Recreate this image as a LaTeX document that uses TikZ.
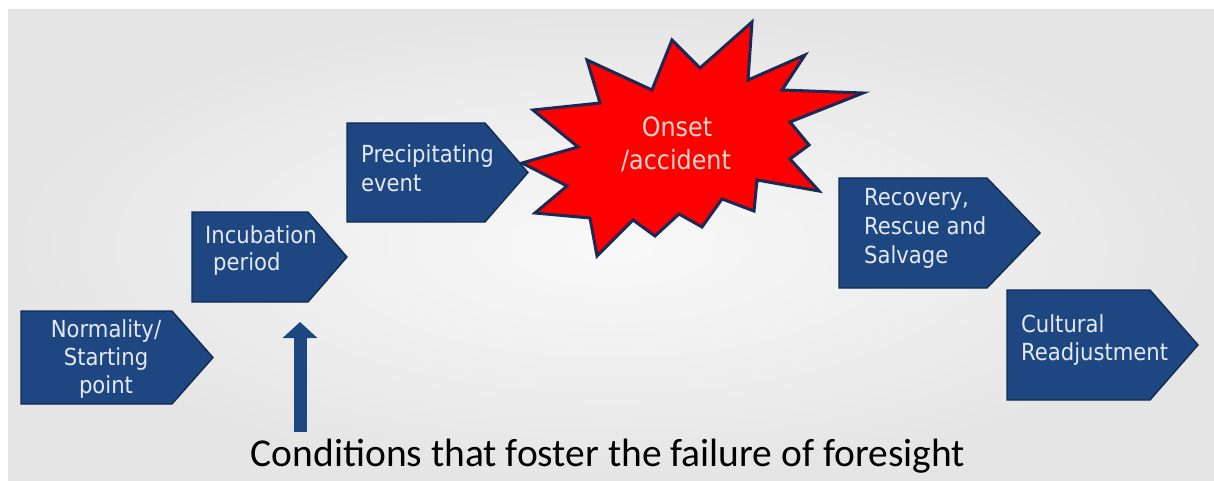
\documentclass[tikz,border=0pt]{standalone}
\usepackage{fontspec}
\setmainfont{Carlito}
\newfontfamily\boxfont{DejaVu Sans Condensed}
\usetikzlibrary{arrows.meta}
\definecolor{bluefill}{HTML}{1E4781}
\definecolor{blueedge}{HTML}{122B50}
\definecolor{boxtxt}{HTML}{E2E9F2}
\definecolor{burstred}{HTML}{FF0000}
\definecolor{burstedge}{HTML}{1B2A55}
\definecolor{bursttxt}{HTML}{F8D8CC}
\definecolor{bgedge}{HTML}{E5E5E5}
\definecolor{bgmid}{HTML}{F9F9F9}
\newcommand\pentbox[6]{% name, x1, y1, x2, tip, y2
  \path[stepbox] (#2,#3) -- (#4,#3) -- (#5,{(#3+#6)/2}) -- (#4,#6) -- (#2,#6) -- cycle;
  \coordinate (#1) at ({(#2+#5)/2},{(#3+#6)/2});}
\begin{document}
\begin{tikzpicture}[x=1pt,y=-1pt,
  stepbox/.style={fill=bluefill, draw=blueedge, line width=1.4pt, line join=miter},
  boxlabel/.style={font=\boxfont\fontsize{23.5}{28}\selectfont, text=boxtxt, inner sep=0pt, anchor=base west},
  boxlabelc/.style={boxlabel, anchor=base},
  burst/.style={fill=burstred, draw=burstedge, line width=3pt, line join=miter, miter limit=20},
  bursttext/.style={font=\boxfont\fontsize{26.5}{32}\selectfont, text=bursttxt, inner sep=0pt, anchor=base},
  uparrow/.style={draw=bluefill, line width=13pt, -{Triangle[width=34pt,length=16pt]}},
  caption/.style={font=\fontsize{39.5}{46}\selectfont, text=black, inner sep=0pt, anchor=base}]
\useasboundingbox (0,0) rectangle (1214,481);
\fill[white] (0,0) rectangle (1214,481);
\shade[inner color=bgmid, outer color=bgedge] (8,10) rectangle (1214,481);

% step boxes
\pentbox{s1}{21}{311}{172}{213}{404}
\pentbox{s2}{192}{212}{308}{347}{302}
\pentbox{s3}{347}{123}{485}{528}{222}
\pentbox{s4}{839}{178}{987}{1040}{288}
\pentbox{s5}{1007}{290}{1150}{1198}{400}

\node[boxlabelc] (t1a) at (106,337) {Normality/};
\node[boxlabelc] (t1b) at (106,365) {Starting};
\node[boxlabelc] (t1c) at (106,393) {point};
\node[boxlabel] (t2a) at (205,243) {Incubation};
\node[boxlabel] (t2b) at (213,270) {period};
\node[boxlabel] (t3a) at (361,163) {Precipitating};
\node[boxlabel] (t3b) at (361,191) {event};
\node[boxlabel] (t4a) at (864,205) {Recovery,};
\node[boxlabel] (t4b) at (864,234) {Rescue and};
\node[boxlabel] (t4c) at (864,263) {Salvage};
\node[boxlabel] (t5a) at (1021,332) {Cultural};
\node[boxlabel] (t5b) at (1021,360) {Readjustment};

% starburst
\path[burst] (522,163) -- (578,147) -- (533,110) -- (600,103) -- (587,60) -- (652,90)
  -- (672,40) -- (700,68) -- (752,22) -- (748,80) -- (805,55) -- (782,90) -- (863,93)
  -- (790,122) -- (809,145) -- (790,159) -- (819,191) -- (757,180) -- (754,211)
  -- (722,199) -- (702,227) -- (679,214) -- (655,236) -- (633,220) -- (597,256)
  -- (590,218) -- (535,213) -- (567,186) -- cycle;
\node[bursttext] (onset) at (677,137) {Onset};
\node[bursttext] (accident) at (676,170) {/accident};

% caption and arrow
\node[caption] (cond) at (608,466) {Conditions that foster the failure of foresight};
\coordinate (abot) at (300,432);
\coordinate (atop) at (300,322);
\draw[uparrow] (abot) -- (atop);
\end{tikzpicture}
\end{document}
